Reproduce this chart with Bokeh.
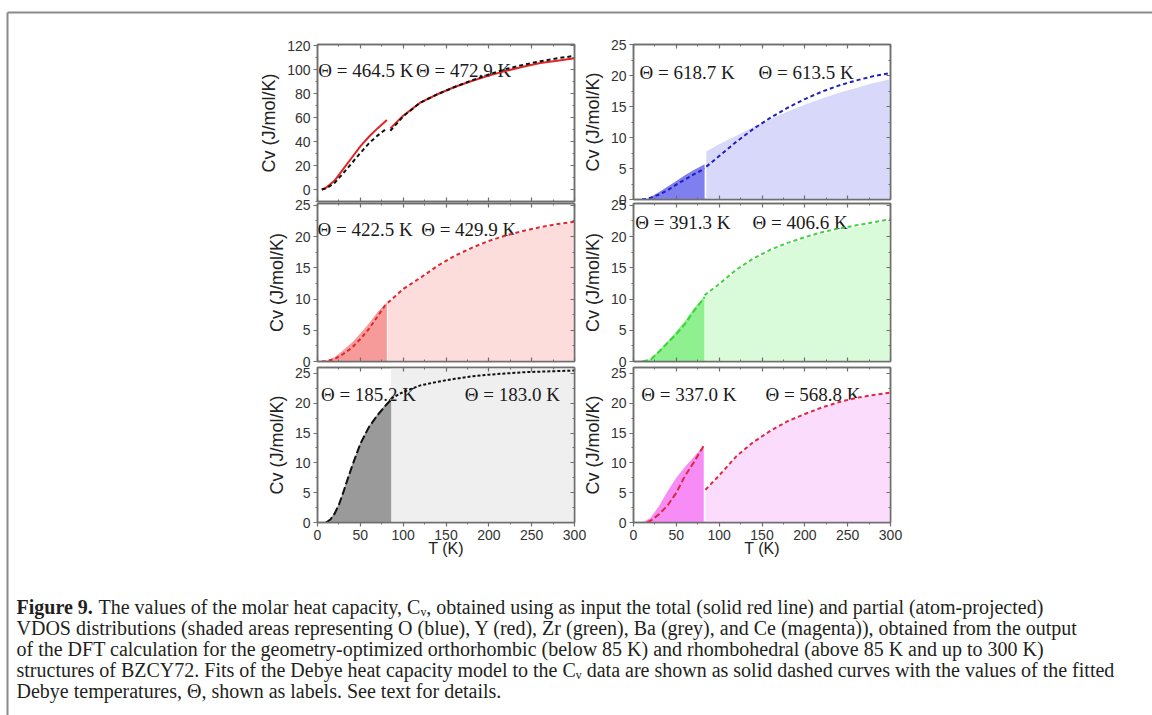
from bokeh.plotting import figure
from bokeh.models import Range1d, LinearAxis, SingleIntervalTicker, BoxAnnotation, CustomJSTickFormatter
from bokeh.embed import file_html
from bokeh.resources import INLINE
from bokeh.core.properties import value

# ---------------- data ----------------
# Total (top-left): solid red = computed Cv, dashed black = Debye fit
T_TOT_LO = [5, 10, 20, 30, 40, 50, 60, 70, 81]
CV_TOT_LO = [0, 1.5, 7.5, 17, 26.5, 36, 44, 51, 58]
FIT_TOT_LO = [0, 0.8, 5.5, 13.5, 22, 30.5, 38.5, 45, 51]
T_TOT_HI = [85, 100, 120, 140, 160, 180, 200, 220, 240, 260, 280, 300]
CV_TOT_HI = [51, 61.5, 72.5, 79.5, 85.5, 90.5, 95, 99, 102.5, 105.5, 107.5, 109.5]
FIT_TOT_HI = [49, 61, 72.5, 79.5, 85.5, 91, 96, 100.5, 104, 107, 109.5, 111.5]

# O (blue)
T_O_LO = [10, 15, 20, 30, 40, 50, 60, 70, 83]
FILL_O_LO = [0, 0, 0.4, 1.2, 2.1, 3.0, 3.9, 4.7, 5.7]
FIT_O_LO = [0, 0.1, 0.3, 0.8, 1.5, 2.4, 3.2, 4.0, 5.0]
T_O_HI = [85, 100, 120, 140, 160, 180, 200, 220, 240, 260, 280, 300]
FILL_O_HI = [7.8, 8.9, 10.3, 11.7, 13.0, 14.2, 15.3, 16.3, 17.2, 18.0, 18.8, 19.4]
FIT_O_HI = [5.3, 7.0, 9.3, 11.4, 13.2, 14.8, 16.2, 17.4, 18.4, 19.2, 19.9, 20.4]

# Y (red)
T_Y_LO = [5, 10, 20, 30, 40, 50, 60, 70, 81]
FILL_Y_LO = [0, 0.1, 0.7, 1.8, 3.0, 4.5, 6.1, 7.9, 9.5]
FIT_Y_LO = [0, 0.05, 0.4, 1.2, 2.2, 3.6, 5.2, 7.2, 9.4]
T_Y_HI = [82, 100, 120, 140, 160, 180, 200, 220, 240, 260, 280, 300]
FILL_Y_HI = [9.3, 11.5, 13.3, 15.1, 16.7, 18.0, 19.1, 20.0, 20.7, 21.3, 21.8, 22.2]
FIT_Y_HI = [9.4, 11.6, 13.4, 15.3, 16.9, 18.2, 19.3, 20.2, 20.9, 21.5, 22.0, 22.4]

# Zr (green)
T_ZR_LO = [10, 20, 30, 40, 50, 60, 70, 83]
FILL_ZR_LO = [0, 0.4, 1.8, 3.3, 4.8, 6.5, 8.4, 10.5]
FIT_ZR_LO = [0, 0.3, 1.6, 3.0, 4.4, 6.0, 8.0, 10.3]
T_ZR_HI = [83, 100, 120, 140, 160, 180, 200, 220, 240, 260, 280, 300]
FILL_ZR_HI = [10.3, 12.1, 14.4, 16.2, 17.6, 18.7, 19.6, 20.4, 21.0, 21.5, 22.0, 22.5]
FIT_ZR_HI = [10.6, 12.4, 14.7, 16.5, 17.9, 19.0, 19.9, 20.7, 21.3, 21.8, 22.3, 22.8]

# Ba (grey)
T_BA_LO = [10, 15, 20, 25, 30, 35, 40, 50, 60, 70, 80, 86]
FILL_BA_LO = [0, 0.6, 1.7, 3.2, 5.2, 7.4, 9.5, 13.4, 16.2, 18.2, 19.9, 20.8]
FIT_BA_LO = [0, 0.5, 1.5, 3.0, 5.0, 7.2, 9.3, 13.2, 16.0, 18.0, 19.7, 20.6]
T_BA_HI = [86, 100, 120, 140, 160, 180, 200, 220, 240, 260, 280, 300]
FIT_BA_HI = [20.8, 21.9, 23.0, 23.6, 24.1, 24.5, 24.8, 25.0, 25.2, 25.3, 25.4, 25.5]

# Ce (magenta)
T_CE_LO = [10, 20, 30, 40, 50, 60, 70, 82]
FILL_CE_LO = [0, 0.8, 2.8, 5.3, 7.5, 9.3, 10.9, 12.9]
T_CE_FIT_LO = [16, 20, 30, 40, 50, 60, 70, 82]
FIT_CE_LO = [0, 0.3, 1.4, 2.9, 5.0, 7.8, 10.0, 12.9]
T_CE_HI = [84, 100, 120, 140, 160, 180, 200, 220, 240, 260, 280, 300]
FILL_CE_HI = [5.5, 7.9, 11.1, 13.5, 15.4, 17.0, 18.2, 19.3, 20.2, 20.9, 21.4, 21.8]
FIT_CE_HI = [5.5, 7.9, 11.1, 13.5, 15.4, 17.0, 18.2, 19.3, 20.2, 20.9, 21.4, 21.8]

# Debye-temperature labels: (text, T position, Cv position)
LABELS_TOT = [("Θ = 464.5 K", 1, 99), ("Θ = 472.9 K", 115, 99)]
LABELS_O = [("Θ = 618.7  K", 7, 20.5), ("Θ = 613.5  K", 146, 20.5)]
LABELS_Y = [("Θ = 422.5  K", 0, 21.1), ("Θ = 429.9  K", 121, 21.1)]
LABELS_ZR = [("Θ = 391.3  K", 2, 22.3), ("Θ = 406.6 K", 139, 22.3)]
LABELS_BA = [("Θ = 185.2 K", 4, 21.5), ("Θ = 183.0 K", 172, 21.5)]
LABELS_CE = [("Θ = 337.0 K", 9, 21.5), ("Θ = 568.8 K", 154, 21.5)]

CAPTION_BOLD = "Figure 9."
CAPTION_LINES = [
    "The values of the molar heat capacity, Cᵥ, obtained using as input the total (solid red line) and partial (atom-projected)",
    "VDOS distributions (shaded areas representing O (blue), Y (red), Zr (green), Ba (grey), and Ce (magenta)), obtained from the output",
    "of the DFT calculation for the geometry-optimized orthorhombic (below 85 K) and rhombohedral (above 85 K and up to 300 K)",
    "structures of BZCY72. Fits of the Debye heat capacity model to the Cᵥ data are shown as solid dashed curves with the values of the fitted",
    "Debye temperatures, Θ, shown as labels. See text for details.",
]

AX_COLOR = "#6e6e6e"
EMPTY = "return ''"

W, H = 1152, 715


def style_axis(ax, labels, tin, tout, ticker):
    ax.ticker = ticker
    ax.axis_line_color = AX_COLOR
    ax.axis_line_width = 1.5
    ax.major_tick_line_color = AX_COLOR
    ax.minor_tick_line_color = AX_COLOR
    ax.major_tick_line_width = 1.2
    ax.minor_tick_line_width = 1
    ax.major_tick_in = tin
    ax.major_tick_out = tout
    ax.minor_tick_in = tin // 2
    ax.minor_tick_out = tout // 2
    if labels:
        ax.major_label_text_font = "Liberation Sans"
        ax.major_label_text_font_size = "14px"
        ax.major_label_text_color = "#333333"
        ax.major_label_standoff = 3
    else:
        ax.formatter = CustomJSTickFormatter(code=EMPTY)
        ax.major_label_text_font_size = "0px"
        ax.major_label_standoff = 0


def panel(fl, ft, fw, fh, yr, yint, bottom, labels):
    mbl, mbr, mbt = 100, 14, 14
    mbb = 52 if bottom else 14
    p = figure(frame_width=fw, frame_height=fh, x_range=Range1d(0, 300),
               y_range=Range1d(*yr), output_backend="svg", toolbar_location=None,
               min_border_left=mbl, min_border_right=mbr, min_border_top=mbt,
               min_border_bottom=mbb, border_fill_color=None,
               background_fill_color="white", outline_line_color=AX_COLOR,
               outline_line_width=1.5)
    p.styles = {"position": "absolute", "left": f"{fl - mbl}px", "top": f"{ft - mbt}px"}
    p.grid.visible = False
    xt = SingleIntervalTicker(interval=50, num_minor_ticks=2)
    yt = SingleIntervalTicker(interval=yint, num_minor_ticks=2)
    xa = p.xaxis[0]
    ya = p.yaxis[0]
    if bottom:
        style_axis(xa, True, 0, 4, xt)
        xa.axis_label = "T (K)"
        xa.axis_label_text_font = "Liberation Sans"
        xa.axis_label_text_font_size = "16px"
        xa.axis_label_text_font_style = "normal"
        xa.axis_label_text_color = "#222222"
        xa.axis_label_standoff = -3
    else:
        style_axis(xa, False, 4, 0, xt)
    style_axis(ya, True, 0, 4, yt)
    ya.axis_label = "Cv (J/mol/K)"
    ya.axis_label_text_font = "Liberation Sans"
    ya.axis_label_text_font_size = "18px"
    ya.axis_label_text_font_style = "normal"
    ya.axis_label_text_color = "#222222"
    ya.axis_label_standoff = 5
    top = LinearAxis()
    style_axis(top, False, 4, 0, SingleIntervalTicker(interval=50, num_minor_ticks=2))
    p.add_layout(top, "above")
    right = LinearAxis()
    style_axis(right, False, 4, 0, SingleIntervalTicker(interval=yint, num_minor_ticks=2))
    p.add_layout(right, "right")
    for txt, tx, ty in labels:
        p.text(x=[tx], y=[ty], text=[txt], text_font=value("Liberation Serif"),
               text_font_size="19px", text_color="#1a1a1a", text_baseline="alphabetic")
    return p


def filled(p, t_lo, f_lo, t_hi, f_hi, dark, light):
    p.varea(x=t_lo, y1=[0] * len(t_lo), y2=f_lo, fill_color=dark)
    if t_hi is not None:
        p.varea(x=t_hi, y1=[0] * len(t_hi), y2=f_hi, fill_color=light)


# ---------------- background: border lines + caption ----------------
bg = figure(frame_width=W, frame_height=H, x_range=Range1d(0, W), y_range=Range1d(H, 0),
            x_axis_type=None, y_axis_type=None, output_backend="svg", toolbar_location=None,
            min_border=0, outline_line_color=None, background_fill_color="white",
            border_fill_color="white")
bg.styles = {"position": "absolute", "left": "0px", "top": "0px"}
bg.grid.visible = False
bg.segment(x0=[7, 7], y0=[12, 12], x1=[W, 7], y1=[12, H], line_color="#8a8a8a", line_width=2)
LINE_Y = [606, 627, 648, 669, 690]
bg.text(x=[16], y=[LINE_Y[0]], text=[CAPTION_BOLD], text_font=value("Liberation Serif"),
        text_font_size="20px", text_font_style="bold", text_color="#231f20",
        text_baseline="middle")
bg.text(x=[98] + [16] * 4, y=LINE_Y, text=CAPTION_LINES, text_font=value("Liberation Serif"),
        text_font_size="20px", text_color="#231f20", text_baseline="middle")

# ---------------- panels ----------------
LX, RX = 317, 633
FW = 257

p_tot = panel(LX, 44, FW, 157, (-10, 121), 20, False, LABELS_TOT)
p_tot.line(T_TOT_LO, CV_TOT_LO, line_color="#e02525", line_width=2)
p_tot.line(T_TOT_HI, CV_TOT_HI, line_color="#e02525", line_width=2)
p_tot.line(T_TOT_LO, FIT_TOT_LO, line_color="#111111", line_width=2, line_dash="4 3")
p_tot.line(T_TOT_HI, FIT_TOT_HI, line_color="#111111", line_width=2, line_dash="4 3")

p_o = panel(RX, 44, FW, 155, (0, 25), 5, False, LABELS_O)
filled(p_o, T_O_LO, FILL_O_LO, T_O_HI, FILL_O_HI, "#7f7ff0", "#d8d8fa")
p_o.line(T_O_LO, FIT_O_LO, line_color="#1f1fbf", line_width=2, line_dash="4 3")
p_o.line(T_O_HI, FIT_O_HI, line_color="#1f1fbf", line_width=2, line_dash="4 3")

p_y = panel(LX, 203, FW, 158, (0, 25.3), 5, False, LABELS_Y)
filled(p_y, T_Y_LO, FILL_Y_LO, T_Y_HI, FILL_Y_HI, "#f79a9a", "#fddcdc")
p_y.line(T_Y_LO, FIT_Y_LO, line_color="#e2262b", line_width=2, line_dash="4 3")
p_y.line(T_Y_HI, FIT_Y_HI, line_color="#e2262b", line_width=2, line_dash="4 3")

p_zr = panel(RX, 203, FW, 158, (0, 25.3), 5, False, LABELS_ZR)
filled(p_zr, T_ZR_LO, FILL_ZR_LO, T_ZR_HI, FILL_ZR_HI, "#8ef08e", "#dafbda")
p_zr.line(T_ZR_LO, FIT_ZR_LO, line_color="#3ed43e", line_width=2, line_dash="6 3")
p_zr.line(T_ZR_HI, FIT_ZR_HI, line_color="#3ed43e", line_width=2, line_dash="4 3")

p_ba = panel(LX, 367, FW, 155, (0, 26), 5, True, LABELS_BA)
p_ba.add_layout(BoxAnnotation(left=T_BA_HI[0], right=T_BA_HI[-1], fill_color="#efefef",
                              fill_alpha=1, line_color=None, level="underlay"))
filled(p_ba, T_BA_LO, FILL_BA_LO, None, None, "#9a9a9a", None)
p_ba.line(T_BA_LO, FIT_BA_LO, line_color="#111111", line_width=2, line_dash="8 3")
p_ba.line(T_BA_HI, FIT_BA_HI, line_color="#111111", line_width=2, line_dash="3 2")

p_ce = panel(RX, 367, FW, 155, (0, 26), 5, True, LABELS_CE)
filled(p_ce, T_CE_LO, FILL_CE_LO, T_CE_HI, FILL_CE_HI, "#f78cf7", "#fcdcfc")
p_ce.line(T_CE_FIT_LO, FIT_CE_LO, line_color="#e0283c", line_width=2, line_dash="6 3")
p_ce.line(T_CE_HI, FIT_CE_HI, line_color="#e0283c", line_width=2, line_dash="4 3")

roots = [bg, p_tot, p_o, p_y, p_zr, p_ba, p_ce]
open("out.html", "w").write(file_html(roots, INLINE))
